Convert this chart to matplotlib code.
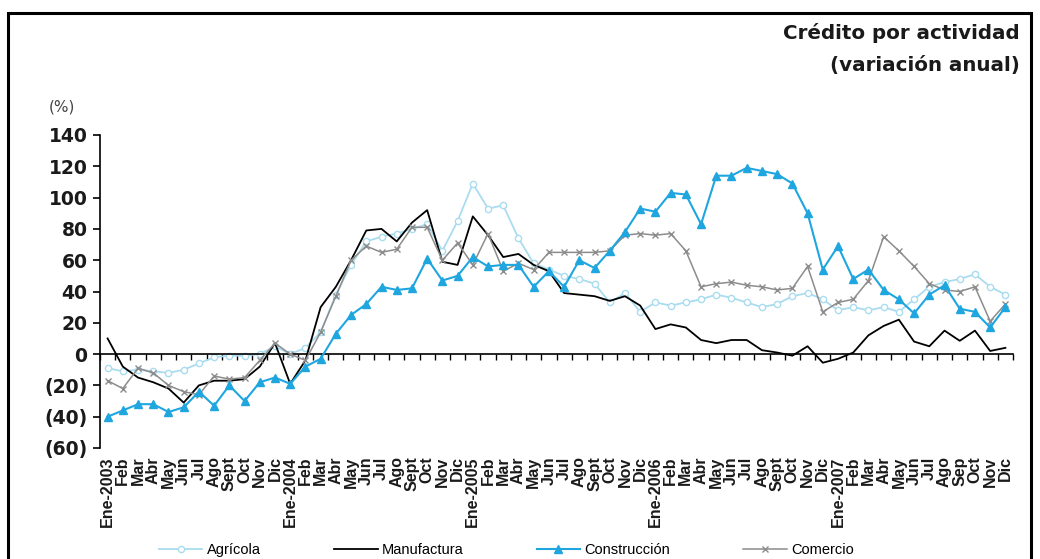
import numpy as np
import matplotlib
matplotlib.use("Agg")
import matplotlib.pyplot as plt
from matplotlib.patches import Rectangle

# Monthly labels, Jan 2003 - Dec 2007
years = [2003, 2004, 2005, 2006, 2007]
months = ["Feb", "Mar", "Abr", "May", "Jun", "Jul", "Ago", "Sept", "Oct", "Nov", "Dic"]
months_2007 = ["Feb", "Mar", "Abr", "May", "Jun", "Jul", "Ago", "Sep", "Oct", "Nov", "Dic"]

# Annual credit growth by sector (%)
agricola = [
    -9, -11, -10, -11, -12, -10, -6, -2, -1, -1, 0, 5,
    0, 4, 14, 38, 57, 72, 75, 77, 80, 83, 66, 85,
    109, 93, 95, 74, 58, 54, 50, 48, 45, 33, 39, 27,
    33, 31, 33, 35, 38, 36, 33, 30, 32, 37, 39, 35,
    28, 30, 28, 30, 27, 35, 43, 46, 48, 51, 43, 38,
]
manufactura = [
    10, -8, -15, -18, -22, -31, -20, -17, -17, -16, -8, 7,
    -19, -4, 30, 43, 60, 79, 80, 72, 84, 92, 59, 57,
    88, 76, 62, 64, 57, 53, 39, 38, 37, 34, 37, 31,
    16, 19, 17, 9, 7, 9, 9, 2.5, 1, -1, 5, -5.5,
    -3, 1, 12, 18, 22, 8, 5, 15, 8.5, 15, 2, 4,
]
construccion = [
    -40, -36, -32, -32, -37, -34, -24, -33, -20, -30, -18, -15,
    -19, -8, -3, 13, 25, 32, 43, 41, 42, 61, 47, 50,
    62, 56, 57, 57, 43, 53, 43, 60, 55, 66, 78, 93,
    91, 103, 102, 83, 114, 114, 119, 117, 115, 109, 90, 54,
    69, 48, 54, 41, 35, 26, 38, 44, 29, 27, 17, 30,
]
comercio = [
    -17, -22, -9, -12, -20, -24, -26, -14, -16, -15, -4, 7,
    0, -4, 14, 37, 60, 69, 65, 67, 81, 81, 60, 71,
    57, 77, 53, 58, 54, 65, 65, 65, 65, 66, 76, 77,
    76, 77, 66, 43, 45, 46, 44, 43, 41, 42, 56, 27,
    33, 35, 47, 75, 66, 56, 45, 41, 40, 43, 21, 32,
]

labels = []
for y in years:
    labels.append(f"Ene-{y}")
    labels.extend(months_2007 if y == 2007 else months)

C_AGR = "#a9dcef"
C_CON = "#1fa6df"
C_COM = "#8c8c8c"

W, H = 1040, 559
fig = plt.figure(figsize=(W / 100, H / 100), dpi=100)
fig.patch.set_facecolor("white")

ax = fig.add_axes([100 / W, (H - 448) / H, 913 / W, 313 / H])
x = np.arange(len(labels))

ax.plot(x, agricola, color=C_AGR, lw=1.3, marker="o", ms=4.5, mfc="white",
        mec=C_AGR, mew=1.0, label="Agrícola", zorder=2)
ax.plot(x, manufactura, color="black", lw=1.3, label="Manufactura", zorder=3)
ax.plot(x, construccion, color=C_CON, lw=1.5, marker="^", ms=6,
        label="Construcción", zorder=5)
ax.plot(x, comercio, color=C_COM, lw=1.1, marker="x", ms=5, mew=1.0,
        label="Comercio", zorder=4)

ax.set_xlim(-0.5, len(labels) - 0.5)
ax.set_ylim(-60, 140)

# spines: y axis on the left, category axis running through zero
for side in ("top", "right"):
    ax.spines[side].set_visible(False)
ax.spines["bottom"].set_position(("data", 0))
ax.spines["bottom"].set_linewidth(1.2)
ax.spines["left"].set_linewidth(1.2)

ax.set_xticks(np.arange(-0.5, len(labels), 1.0))
ax.tick_params(axis="x", direction="out", length=4, width=1.0, labelbottom=False)

yt = list(range(-60, 141, 20))
ax.set_yticks(yt)
ax.set_yticklabels([f"({abs(v)})" if v < 0 else str(v) for v in yt],
                   fontsize=13.5, fontweight="bold", family="DejaVu Sans",
                   color="#1a1a1a")
ax.tick_params(axis="y", direction="out", length=5, width=1.2, pad=4)

# month labels along the bottom of the plot area
sec = ax.secondary_xaxis("bottom")
sec.set_xticks(x)
sec.set_xticklabels(labels, rotation=90, fontsize=11.5, fontweight="bold",
                    family="Liberation Sans", color="#1a1a1a")
sec.tick_params(length=0, pad=6)
sec.spines["bottom"].set_visible(False)

# titles
fig.text(1020 / W, (H - 33) / H, "Crédito por actividad", ha="right", va="center",
         fontsize=14.3, fontweight="bold", family="DejaVu Sans", color="#1a1a1a")
fig.text(1020 / W, (H - 66) / H, "(variación anual)", ha="right", va="center",
         fontsize=14.3, fontweight="bold", family="DejaVu Sans", color="#1a1a1a")
fig.text(62 / W, (H - 107) / H, "(%)", ha="center", va="center",
         fontsize=11, family="DejaVu Sans", color="#444444")

# legend
handles, names = ax.get_legend_handles_labels()
fig.legend(handles, names, loc="center", bbox_to_anchor=(0.487, (H - 550) / H),
           ncol=4, frameon=False, handlelength=3.0,
           columnspacing=5.0, handletextpad=0.3,
           prop={"family": "Liberation Sans", "size": 10.5})

# outer frame
fig.add_artist(Rectangle((8 / W, -0.1), (1031 - 8) / W, (H - 13) / H + 0.1,
                         transform=fig.transFigure, fill=False, lw=2.2,
                         ec="black", clip_on=False))

fig.savefig("out.png", dpi=100)
